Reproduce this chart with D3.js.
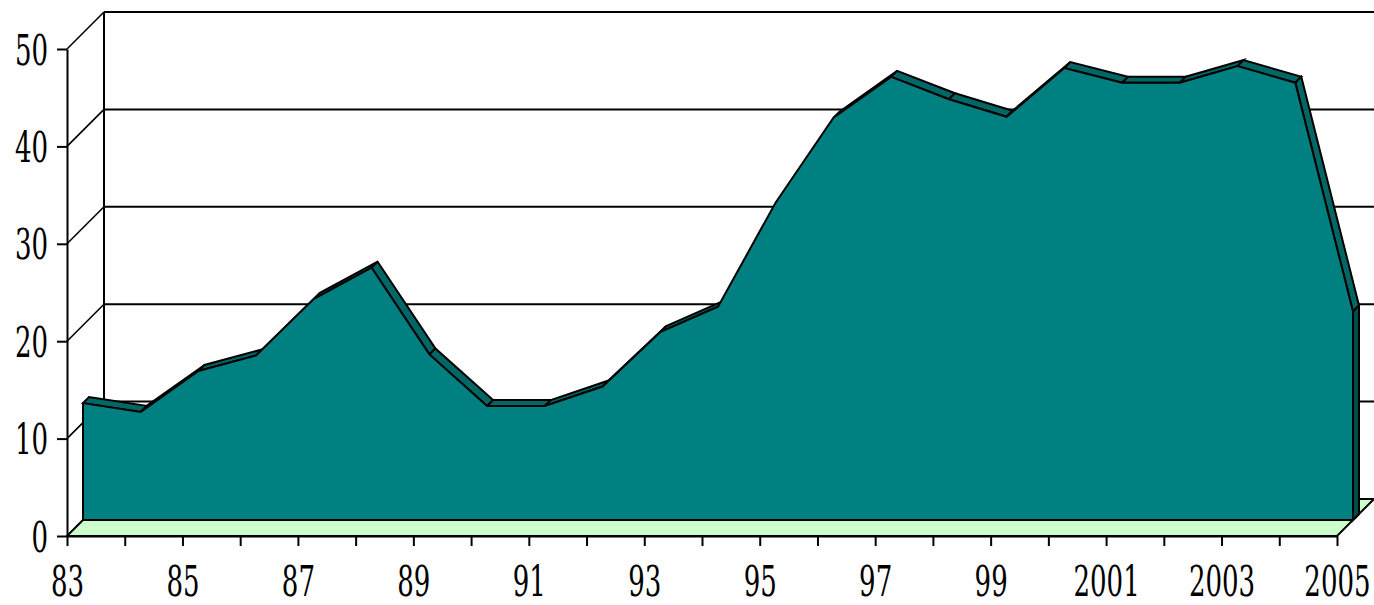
<!DOCTYPE html>
<html>
<head>
<meta charset="utf-8">
<script src="https://cdn.jsdelivr.net/npm/d3@7"></script>
<style>
  body { margin: 0; background: #fff; }
  svg { display: block; }
</style>
</head>
<body>
<script>
// data
const categories = ["83","84","85","86","87","88","89","90","91","92","93","94","95","96","97","98","99","2000","2001","2002","2003","2004","2005"]
const values = [12.0, 11.1, 15.3, 16.9, 22.7, 25.9, 17.0, 11.7, 11.7, 13.7, 19.3, 21.9, 32.6, 41.3, 45.5, 43.2, 41.4, 46.4, 44.9, 44.9, 46.6, 44.9, 21.4]
const yTicks = [0, 10, 20, 30, 40, 50]

const width = 1374, height = 605
const depth = 37          // full depth of the box
const zFront = 16         // front face of the series
const zBack = 22          // back face of the series

const svg = d3.select("body").append("svg")
  .attr("width", width)
  .attr("height", height)

const x = d3.scalePoint().domain(categories).range([67, 1337])
const y = d3.scaleLinear().domain([0, 50]).range([536, 49])

// oblique projection: push a point back by z
const proj = (c, v, z) => [x(c) + z, y(v) - z]

const line = d3.line()
const walls = svg.append("g").attr("stroke", "#000").attr("stroke-width", 2).attr("fill", "none")

// back wall gridlines
yTicks.filter(v => v > 0).forEach(v => {
  walls.append("path").attr("d", line([proj(categories[0], v, depth), [width, y(v) - depth]]))
})
// left wall: back edge and diagonals from the axis ticks
walls.append("path").attr("d", line([proj(categories[0], 0, depth), proj(categories[0], 50, depth)]))
yTicks.forEach(v => {
  walls.append("path")
    .attr("stroke-width", 1.6)
    .attr("d", line([proj(categories[0], v, 0), proj(categories[0], v, depth)]))
})

// floor
const c0 = categories[0], cN = categories[categories.length - 1]
svg.append("path")
  .attr("d", line([proj(c0, 0, 0), proj(cN, 0, 0), proj(cN, 0, depth), proj(c0, 0, depth)]) + "Z")
  .attr("fill", "#ccffcc")
  .attr("stroke", "#000")
  .attr("stroke-width", 2)

// axes
const fontFamily = "'DejaVu Serif', 'Liberation Serif', serif"
const squeeze = "scale(0.62,1)"

const yAxis = svg.append("g")
  .attr("transform", "translate(67,0)")
  .call(d3.axisLeft(y).tickValues(yTicks).tickSize(10).tickSizeOuter(0).tickPadding(20.6))
yAxis.attr("font-family", fontFamily).attr("font-size", 42)
yAxis.selectAll("path, line").attr("stroke", "#000").attr("stroke-width", 2)
yAxis.selectAll("text").attr("fill", "#000").attr("dy", "0.36em").attr("transform", squeeze)

const xAxis = svg.append("g")
  .attr("transform", "translate(0,536)")
  .call(d3.axisBottom(x).tickSize(10).tickSizeOuter(0).tickPadding(20)
    .tickFormat((d, i) => i % 2 === 0 ? d : ""))
xAxis.attr("font-family", fontFamily).attr("font-size", 42)
xAxis.selectAll("path, line").attr("stroke", "#000").attr("stroke-width", 2)
xAxis.selectAll("text").attr("fill", "#000").attr("transform", squeeze)

// the 3D area series
const series = svg.append("g").attr("stroke", "#000").attr("stroke-width", 2).attr("stroke-linejoin", "miter")
const pf = categories.map((c, i) => proj(c, values[i], zFront))
const pb = categories.map((c, i) => proj(c, values[i], zBack))
const ox = zBack - zFront, oy = -(zBack - zFront)

// top strips, only those facing up
for (let i = 0; i < pf.length - 1; i++) {
  const dx = pf[i + 1][0] - pf[i][0], dy = pf[i + 1][1] - pf[i][1]
  if (dx * oy - dy * ox < 0) {
    series.append("path")
      .attr("d", line([pf[i], pf[i + 1], pb[i + 1], pb[i]]) + "Z")
      .attr("fill", "#006666")
  }
}

// right side face
const last = categories.length - 1
series.append("path")
  .attr("d", line([pf[last], proj(cN, 0, zFront), proj(cN, 0, zBack), pb[last]]) + "Z")
  .attr("fill", "#004d4d")

// front face
const area = d3.area()
  .x((d, i) => x(categories[i]) + zFront)
  .y0(y(0) - zFront)
  .y1(d => y(d) - zFront)

series.append("path")
  .datum(values)
  .attr("d", area)
  .attr("fill", "#008080")
</script>
</body>
</html>
